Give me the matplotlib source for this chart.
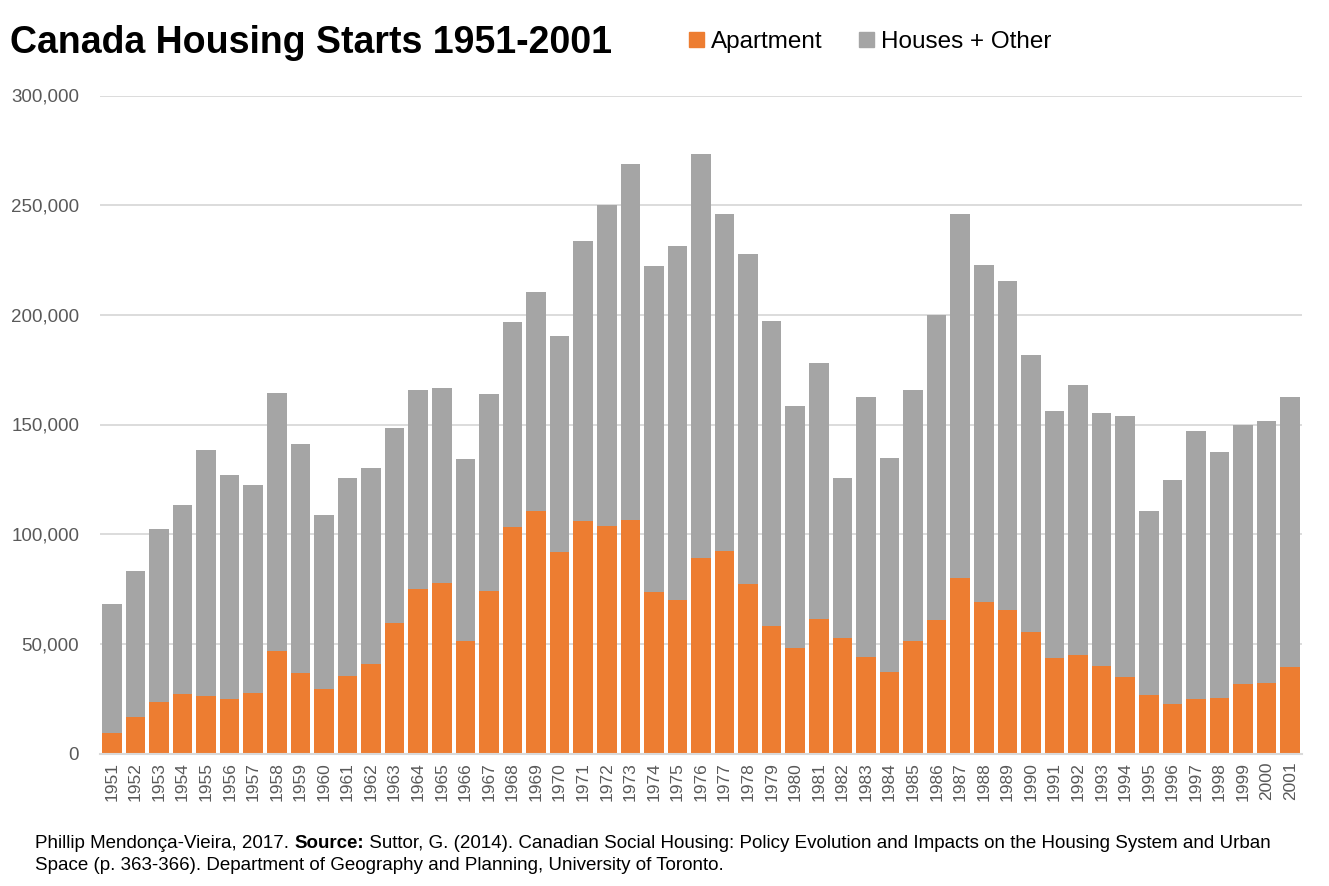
import numpy as np
import matplotlib
matplotlib.use("Agg")
import matplotlib.pyplot as plt
from matplotlib.patches import Patch

plt.rcParams['font.family'] = ['Liberation Sans', 'DejaVu Sans']

# data (housing starts per year)
years = [str(y) for y in range(1951, 2002)]
apartment = [
    9300, 16600, 23600, 27300, 26400, 24800, 27600, 46700, 36700, 29400,
    35500, 40900, 59500, 75000, 77700, 51300, 74100, 103200, 110500, 91800,
    106000, 103700, 106400, 73600, 70000, 89300, 92300, 77300, 58100, 48100,
    61300, 52600, 44000, 37100, 51300, 60800, 80000, 69100, 65400, 55400,
    43500, 44900, 39900, 34900, 26700, 22600, 24800, 25300, 31700, 32100,
    39400,
]
houses_other = [
    58800, 66600, 78700, 86000, 111900, 102100, 94800, 117600, 104400, 79300,
    90100, 89200, 88900, 90700, 88900, 82900, 89800, 93500, 99800, 98500,
    127600, 146300, 162300, 148600, 161300, 184000, 153600, 150400, 139000, 110300,
    116700, 73000, 118500, 97600, 114400, 139100, 165900, 153600, 150000, 126300,
    112600, 123000, 115300, 118900, 83800, 102100, 122200, 112100, 118000, 119400,
    123100,
]
yticks = [0, 50000, 100000, 150000, 200000, 250000, 300000]

orange = "#ED7D31"
grey = "#A5A5A5"
grid_c = "#D9D9D9"
label_c = "#595959"

W, H = 1329, 886
fig = plt.figure(figsize=(W / 100, H / 100), dpi=100)
ax = fig.add_axes([100 / W, 1 - 753.5 / H, 1202 / W, 658 / H])

x = np.arange(len(years))
ax.bar(x, apartment, width=0.83, color=orange, zorder=3)
ax.bar(x, houses_other, width=0.83, bottom=apartment, color=grey, zorder=3)

ax.set_xlim(-0.5, len(years) - 0.5)
ax.set_ylim(0, 300000)
ax.set_yticks(yticks)
ax.set_yticklabels([f"{v:,}" for v in yticks], fontsize=13.5, color=label_c)
ax.set_xticks(x)
ax.set_xticklabels(years, rotation=90, fontsize=12.5, color=label_c)
ax.tick_params(axis='y', length=0, pad=15)
ax.tick_params(axis='x', length=0, pad=6)
ax.grid(axis='y', color=grid_c, linewidth=1.3, zorder=0)
for s in ['top', 'right', 'left']:
    ax.spines[s].set_visible(False)
ax.spines['bottom'].set_color(grid_c)
ax.spines['bottom'].set_linewidth(1.5)
ax.spines['bottom'].set_zorder(4)

# title and legend
fig.text(10 / W, 1 - 43 / H, "Canada Housing Starts 1951-2001", fontsize=27,
         fontweight='bold', va='center', ha='left')
handles = [Patch(color=orange, label="Apartment"),
           Patch(color=grey, label="Houses + Other")]
fig.legend(handles=handles, loc='center left', bbox_to_anchor=(689 / W, 1 - 42 / H),
           ncol=2, frameon=False, fontsize=17.5, handlelength=0.6, handleheight=0.6,
           handletextpad=0.3, columnspacing=1.5, borderaxespad=0, borderpad=0)

# footer with bold "Source:"
fs = 13.5
t1 = fig.text(35 / W, 1 - 843 / H, "Phillip Mendonça-Vieira, 2017. ", fontsize=fs,
              va='center', ha='left')
t2 = fig.text(0, 0, "Source:", fontsize=fs, fontweight='bold', va='center', ha='left')
t3 = fig.text(0, 0, " Suttor, G. (2014). Canadian Social Housing: Policy Evolution and "
              "Impacts on the Housing System and Urban", fontsize=fs, va='center', ha='left')
fig.canvas.draw()
r = fig.canvas.get_renderer()
bb = t1.get_window_extent(r)
t2.set_position((bb.x1 / W, 1 - 843 / H))
bb = t2.get_window_extent(r)
t3.set_position((bb.x1 / W, 1 - 843 / H))
fig.text(35 / W, 1 - 866 / H, "Space (p. 363-366). Department of Geography and Planning, "
         "University of Toronto.", fontsize=fs, va='center', ha='left')

fig.savefig("out.png", dpi=100)
